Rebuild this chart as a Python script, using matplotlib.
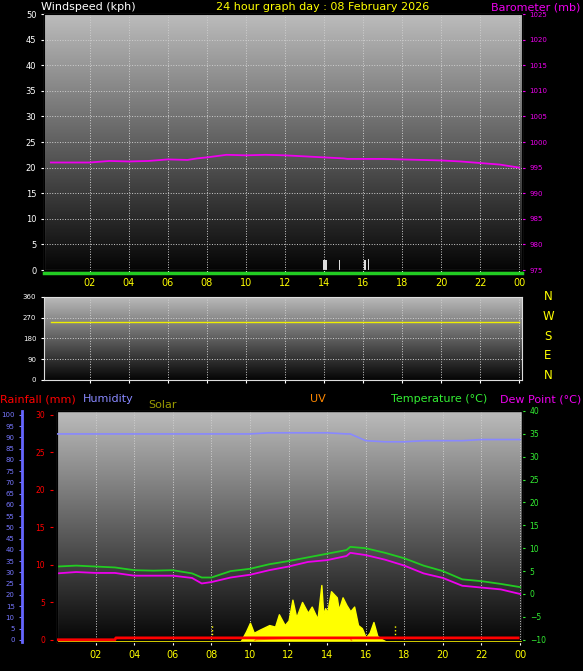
import numpy as np
import matplotlib.pyplot as plt

hours = [0, 1, 2, 3, 4, 5, 6, 7, 7.5, 8, 9, 10, 11, 12, 13, 14, 15, 15.2, 16, 17, 18, 19, 20, 21, 22, 23, 24]
baro = [996.0, 996.0, 996.0, 996.3, 996.2, 996.3, 996.6, 996.5, 996.8, 997.0, 997.5, 997.4, 997.5, 997.4, 997.2, 997.0, 996.8, 996.7, 996.7, 996.7, 996.6, 996.5, 996.4, 996.2, 995.9, 995.6, 995.0]
temp = [6.0, 6.2, 6.0, 5.8, 5.2, 5.1, 5.2, 4.5, 3.6, 3.6, 5.0, 5.5, 6.5, 7.2, 8.0, 8.8, 9.6, 10.3, 10.0, 9.0, 7.8, 6.2, 5.0, 3.2, 2.8, 2.2, 1.5]
dew = [4.5, 4.8, 4.6, 4.6, 4.0, 4.0, 4.0, 3.5, 2.3, 2.6, 3.6, 4.2, 5.2, 6.0, 7.0, 7.4, 8.3, 9.0, 8.5, 7.5, 6.2, 4.5, 3.5, 1.8, 1.4, 1.0, 0.0]
hum = [91.5, 91.5, 91.5, 91.5, 91.5, 91.5, 91.5, 91.5, 91.5, 91.5, 91.5, 91.5, 92.0, 92.0, 92.0, 92.0, 91.5, 91.5, 88.5, 88.0, 88.0, 88.5, 88.5, 88.5, 89.0, 89.0, 89.0]
solar_h = [9.5, 9.8, 10.0, 10.2, 10.5, 11.0, 11.3, 11.5, 11.8, 12.0, 12.2, 12.4, 12.7, 13.0, 13.2, 13.5, 13.7, 13.8, 13.9, 14.0, 14.2, 14.5, 14.6, 14.8, 15.0, 15.2, 15.4, 15.6, 15.8, 16.0, 16.2, 16.4, 16.6, 16.8, 17.1]
solar = [0, 14, 25, 12, 16, 22, 20, 36, 22, 28, 55, 32, 52, 38, 46, 30, 74, 36, 44, 38, 66, 58, 42, 58, 48, 40, 46, 22, 18, 6, 12, 26, 8, 4, 0]
wind_h = [14.0, 14.1, 14.8, 16.1, 16.3]
wind = [2.0, 2.0, 2.0, 2.0, 2.2]
wdir_h = [0, 24]
wdir = [250, 250]
rain_h = [0, 3, 3.05, 23.9]
rain = [0.0, 0.0, 0.25, 0.25]
uv_h = [0, 10.2, 10.3, 12, 15.2, 15.3, 24]
uv = [0.0, 0.0, 3.0, 5.0, 5.0, 0.0, 0.0]
hour_ticks = list(range(2, 25, 2))
hour_labels = ['%02d' % (h % 24) for h in hour_ticks]

fig = plt.figure(figsize=(5.83, 6.71), dpi=100, facecolor='black')
grad = np.linspace(0, 1, 256).reshape(-1, 1)
gray = plt.cm.colors.LinearSegmentedColormap.from_list('g', ['#050505', '#bcbcbc'])

def panel(rect, xlim):
    ax = fig.add_axes(rect)
    ax.set_xlim(*xlim)
    ax.imshow(grad, cmap=gray, aspect='auto', extent=[xlim[0], xlim[1], 0, 1],
              origin='lower', transform=ax.transAxes, zorder=0)
    ax.set_facecolor('black')
    for s in ax.spines.values():
        s.set_color('#dddddd')
    ax.tick_params(colors='white', labelsize=6, length=2)
    ax.set_xticks(hour_ticks)
    ax.grid(True, color='#cfcfcf', linestyle=':', linewidth=0.7)
    return ax

# top panel: wind and barometer
ax1 = panel([0.0755, 0.5976, 0.82, 0.3815], (-0.35, 24.15))
ax1.set_ylim(0, 50)
ax1.set_yticks(range(0, 51, 5))
ax1.set_xticklabels(hour_labels, color='yellow', fontsize=7)
ax1.bar(wind_h, wind, width=0.06, color='#dddddd', zorder=3)
ax1.axhline(-0.6, color='#22cc22', lw=2.5, zorder=3, clip_on=False)
axb = ax1.twinx()
axb.set_ylim(975, 1025)
axb.set_yticks(range(975, 1026, 5))
axb.tick_params(colors='#ee00ee', labelsize=5, length=2)
axb.plot(hours, baro, color='#ee00ee', lw=1.3)
fig.text(0.07, 0.997, 'Windspeed (kph)', color='white', fontsize=8, va='top')
fig.text(0.37, 0.997, '24 hour graph day : 08 February 2026', color='yellow', fontsize=8, va='top')
fig.text(0.995, 0.997, 'Barometer (mb)', color='#ee00ee', fontsize=8, va='top', ha='right')

# middle panel: wind direction
ax2 = panel([0.0755, 0.4337, 0.82, 0.1237], (-0.35, 24.15))
ax2.set_ylim(0, 360)
ax2.set_yticks(range(0, 361, 90))
ax2.tick_params(labelsize=5)
ax2.set_xticklabels([])
ax2.plot(wdir_h, wdir, color='#eeee00', lw=1)
for i, lab in enumerate(['N', 'W', 'S', 'E', 'N']):
    fig.text(0.94, 0.558 - i * 0.0295, lab, color='yellow', fontsize=8.5, ha='center', va='center')

# bottom panel: temperature, humidity, rain, solar
ax3 = panel([0.0978, 0.0432, 0.7976, 0.3443], (0, 24.1))
ax3.set_ylim(-10.5, 40)
ax3.set_xticklabels(hour_labels, color='yellow', fontsize=7)
ax3.set_yticks([])
axs = ax3.twinx()
axs.set_ylim(0, 300)
axs.set_yticks([])
axs.fill_between(solar_h, solar, color='yellow', zorder=2)
axs.plot(uv_h, uv, color='#ff8800', lw=1)
for x in [8.05, 17.5]:
    axs.plot([x, x], [0, 22], color='yellow', ls=':', lw=1)
axt = ax3.twinx()
axt.set_ylim(-10.5, 40)
axt.set_yticks(range(-10, 41, 5))
axt.tick_params(axis='y', colors='#33ee33', labelsize=5.5, length=2)
axt.plot(hours, temp, color='#22cc22', lw=1.3)
axt.plot(hours, dew, color='#ee00ee', lw=1.3)
axt.axhline(-10.45, color='yellow', lw=2)
axr = ax3.twinx()
axr.set_ylim(-0.3, 30.5)
axr.yaxis.tick_left()
axr.spines['left'].set_position(('outward', 3))
axr.spines['left'].set_visible(False)
axr.tick_params(axis='y', colors='red', labelsize=5.5, length=2)
axr.set_yticks(range(0, 31, 5))
axr.plot(rain_h, rain, color='red', lw=2)
axh = ax3.twinx()
axh.set_ylim(-1, 101.7)
axh.yaxis.tick_left()
axh.spines['left'].set_position(('outward', 25))
axh.spines['left'].set_color('#6666ff')
axh.spines['left'].set_linewidth(2)
axh.tick_params(axis='y', colors='#7777ff', labelsize=5, length=2)
axh.set_yticks(range(0, 101, 5))
axh.plot(hours, hum, color='#8888ff', lw=1.2)
for a in [axs, axt, axr, axh]:
    a.set_xlim(0, 24.1)
    a.tick_params(axis='x', bottom=False, labelbottom=False)

fig.text(0.0, 0.405, 'Rainfall (mm)', color='red', fontsize=8, va='center')
fig.text(0.143, 0.405, 'Humidity', color='#8888ff', fontsize=8, va='center')
fig.text(0.255, 0.397, 'Solar', color='#999900', fontsize=8, va='center')
fig.text(0.545, 0.405, 'UV', color='#ff8800', fontsize=8, va='center', ha='center')
fig.text(0.67, 0.405, 'Temperature (\u00b0C)', color='#33ee33', fontsize=8, va='center')
fig.text(0.997, 0.405, 'Dew Point (\u00b0C)', color='#ee00ee', fontsize=8, va='center', ha='right')

fig.savefig('out.png', dpi=100, facecolor='black')
